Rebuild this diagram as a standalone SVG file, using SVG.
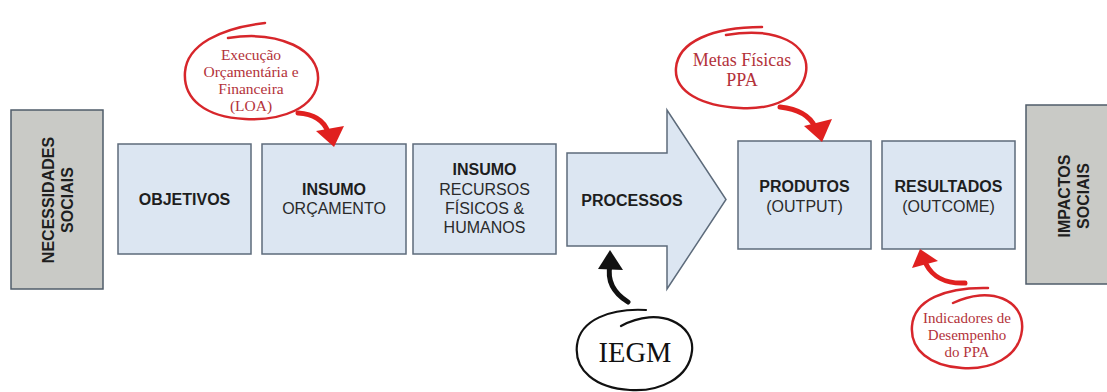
<svg xmlns="http://www.w3.org/2000/svg" width="1107" height="392" viewBox="0 0 1107 392">
<defs>
<style>
.box{fill:#dce6f2;stroke:#5d6b7b;stroke-width:1.5}
.gray{fill:#c9cac6;stroke:#4f5c6a;stroke-width:1.5}
.b{font-family:"Liberation Sans",Arial,sans-serif;font-weight:bold;font-size:16px;fill:#1e1e1e;text-anchor:middle}
.r{font-family:"Liberation Sans",Arial,sans-serif;font-size:16px;fill:#2a2a2a;text-anchor:middle}
.note{font-family:"Liberation Serif","Times New Roman",serif;fill:#b3323a;text-anchor:middle}
.loop{fill:none;stroke:#d7262b;stroke-width:2.5;stroke-linecap:round}
.shaft{fill:none;stroke:#e0201f;stroke-width:5;stroke-linecap:round}
.head{fill:#e0201f}
.kloop{fill:none;stroke:#111;stroke-width:2.2;stroke-linecap:round}
.kshaft{fill:none;stroke:#111;stroke-width:5;stroke-linecap:round}
</style>
</defs>
<rect width="1107" height="392" fill="#ffffff"/>

<g id="necessidades">
<rect class="gray" x="11" y="110" width="92" height="179"/>
<text class="b" transform="translate(59,200) rotate(-90)"><tspan x="0" y="-5">NECESSIDADES</tspan><tspan x="0" y="14">SOCIAIS</tspan></text>
</g>

<g id="objetivos">
<rect class="box" x="118" y="144" width="133" height="110"/>
<text class="b" x="184.5" y="205">OBJETIVOS</text>
</g>

<g id="insumo-orcamento">
<rect class="box" x="262" y="144" width="144" height="110"/>
<text class="b" x="334" y="195">INSUMO</text>
<text class="r" x="334" y="214">ORÇAMENTO</text>
</g>

<g id="insumo-recursos">
<rect class="box" x="413" y="144" width="143" height="110"/>
<text class="b" x="484.5" y="175">INSUMO</text>
<text class="r" x="484.5" y="195">RECURSOS</text>
<text class="r" x="484.5" y="214">FÍSICOS &amp;</text>
<text class="r" x="484.5" y="233">HUMANOS</text>
</g>

<g id="processos">
<polygon class="box" points="567,153 667,153 667,110 726,199.5 667,289 667,246 567,246"/>
<text class="b" x="632" y="206">PROCESSOS</text>
</g>

<g id="produtos">
<rect class="box" x="738" y="141" width="133" height="108"/>
<text class="b" x="804.5" y="192">PRODUTOS</text>
<text class="r" x="804.5" y="212">(OUTPUT)</text>
</g>

<g id="resultados">
<rect class="box" x="882" y="141" width="133" height="108"/>
<text class="b" x="948.5" y="192">RESULTADOS</text>
<text class="r" x="948.5" y="212">(OUTCOME)</text>
</g>

<g id="impactos">
<rect class="gray" x="1026" y="105" width="90" height="179"/>
<text class="b" transform="translate(1075,196) rotate(-90)"><tspan x="0" y="-5">IMPACTOS</tspan><tspan x="0" y="14">SOCIAIS</tspan></text>
</g>

<g id="nota-loa">
<path class="loop" d="M228 38 C280 30,320 50,318 80 C316 108,282 121,245 119 C205 117,183 99,185 72 C187 45,220 28,265 23"/>
<text class="note" font-size="15.5" x="251" y="60">Execução</text>
<text class="note" font-size="15.5" x="251" y="77">Orçamentária e</text>
<text class="note" font-size="15.5" x="251" y="94">Financeira</text>
<text class="note" font-size="15.5" x="251" y="111">(LOA)</text>
</g>

<g id="nota-metas">
<path class="loop" d="M726 35 C778 26,810 45,806 72 C802 98,772 110,740 108 C702 106,674 92,676 68 C678 42,712 27,762 27"/>
<text class="note" font-size="18" x="742" y="66">Metas Físicas</text>
<text class="note" font-size="18" x="742" y="86">PPA</text>
</g>

<g id="nota-indicadores">
<path class="loop" d="M953 303 C990 285,1025 300,1022 330 C1019 358,990 370,962 368 C930 366,910 350,912 326 C914 300,945 287,988 288"/>
<text class="note" font-size="15" x="967" y="323">Indicadores de</text>
<text class="note" font-size="15" x="967" y="340">Desempenho</text>
<text class="note" font-size="15" x="967" y="357">do PPA</text>
</g>

<g id="iegm">
<path class="kloop" d="M621 326 C660 305,695 325,692 351 C689 378,660 392,630 390 C595 388,574 370,577 345 C580 320,610 308,646 310"/>
<text x="635" y="362" font-family="Liberation Serif,'Times New Roman',serif" font-size="28.5" fill="#111" text-anchor="middle">IEGM</text>
</g>

<g id="connectors">
<path class="shaft" d="M298 113 C314 114,324 121,328 132"/>
<polygon class="head" points="334,147 316,131 344,126"/>
<path class="shaft" d="M780 107 C798 109,810 116,815 127"/>
<polygon class="head" points="822,142 804,126 832,119"/>
<path class="shaft" d="M965 283 C945 284,932 276,926 264"/>
<polygon class="head" points="920,249 912,268 938,261"/>
<path class="kshaft" d="M628 302 C612 292,607 280,610 265"/>
<polygon fill="#111" points="610,250 598,269 623,270"/>
</g>
</svg>
